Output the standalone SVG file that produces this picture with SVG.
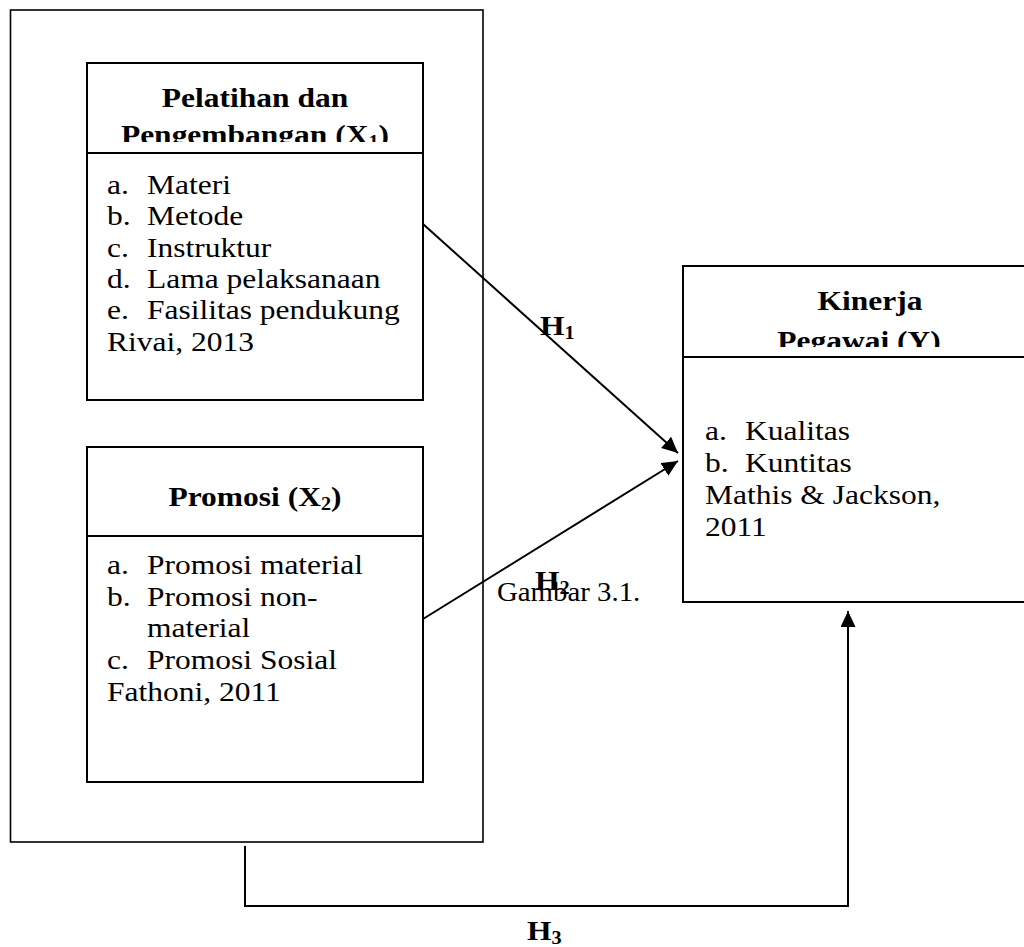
<svg xmlns="http://www.w3.org/2000/svg" width="1024" height="947" viewBox="0 0 1024 947">
<style>
.t{font-family:"Liberation Serif","Times New Roman",serif;font-size:28px;fill:#000}
.b{font-weight:bold}
.c{text-anchor:middle}
.box{fill:#fff;stroke:#000;stroke-width:2}
.outer{fill:none;stroke:#000;stroke-width:1.6}
.ln{fill:none;stroke:#000;stroke-width:2}
.sub{font-size:18px}
</style>
<defs>
<marker id="ah" markerUnits="userSpaceOnUse" markerWidth="17" markerHeight="16" refX="16" refY="7.5" orient="auto">
<path d="M0,0 L16,7.5 L0,15 z" fill="#000"/>
</marker>
<clipPath id="c1"><rect x="88" y="64" width="334" height="78"/></clipPath>
<clipPath id="c3"><rect x="684" y="267" width="340" height="80"/></clipPath>
</defs>
<rect width="1024" height="947" fill="#fff"/>
<g id="outer">
<rect class="outer" x="10.5" y="10" width="472.5" height="832"/>
</g>
<g id="x1">
<rect class="box" x="87" y="63" width="336" height="337"/>
<line class="ln" x1="87" y1="153" x2="423" y2="153"/>
<g clip-path="url(#c1)">
<text class="t b c" transform="translate(255 107) scale(1.125 1)">Pelatihan dan</text>
<text class="t b c" transform="translate(255 144) scale(1.125 1)">Pengembangan (X<tspan class="sub" dy="4">1</tspan><tspan dy="-4">)</tspan></text>
</g>
<text class="t" transform="translate(107 194) scale(1.125 1)">a.</text><text class="t" transform="translate(147 194) scale(1.125 1)">Materi</text>
<text class="t" transform="translate(107 225) scale(1.125 1)">b.</text><text class="t" transform="translate(147 225) scale(1.125 1)">Metode</text>
<text class="t" transform="translate(107 257) scale(1.125 1)">c.</text><text class="t" transform="translate(147 257) scale(1.125 1)">Instruktur</text>
<text class="t" transform="translate(107 288) scale(1.125 1)">d.</text><text class="t" transform="translate(147 288) scale(1.125 1)">Lama pelaksanaan</text>
<text class="t" transform="translate(107 319) scale(1.125 1)">e.</text><text class="t" transform="translate(147 319) scale(1.125 1)">Fasilitas pendukung</text>
<text class="t" transform="translate(107 351) scale(1.125 1)">Rivai, 2013</text>
</g>
<g id="x2">
<rect class="box" x="87" y="447" width="336" height="335"/>
<line class="ln" x1="87" y1="536" x2="423" y2="536"/>
<text class="t b c" transform="translate(255 506) scale(1.125 1)">Promosi (X<tspan class="sub" dy="4">2</tspan><tspan dy="-4">)</tspan></text>
<text class="t" transform="translate(107 574) scale(1.125 1)">a.</text><text class="t" transform="translate(147 574) scale(1.125 1)">Promosi material</text>
<text class="t" transform="translate(107 606) scale(1.125 1)">b.</text><text class="t" transform="translate(147 606) scale(1.125 1)">Promosi non-</text>
<text class="t" transform="translate(147 637) scale(1.125 1)">material</text>
<text class="t" transform="translate(107 669) scale(1.125 1)">c.</text><text class="t" transform="translate(147 669) scale(1.125 1)">Promosi Sosial</text>
<text class="t" transform="translate(107 701) scale(1.125 1)">Fathoni, 2011</text>
</g>
<g id="y">
<rect class="box" x="683" y="266" width="360" height="336"/>
<line class="ln" x1="683" y1="357" x2="1024" y2="357"/>
<g clip-path="url(#c3)">
<text class="t b c" transform="translate(870 310) scale(1.125 1)">Kinerja</text>
<text class="t b c" transform="translate(859 350) scale(1.125 1)">Pegawai (Y)</text>
</g>
<text class="t" transform="translate(705 440) scale(1.125 1)">a.</text><text class="t" transform="translate(745 440) scale(1.125 1)">Kualitas</text>
<text class="t" transform="translate(705 472) scale(1.125 1)">b.</text><text class="t" transform="translate(745 472) scale(1.125 1)">Kuntitas</text>
<text class="t" transform="translate(705 504) scale(1.125 1)">Mathis &amp; Jackson,</text>
<text class="t" transform="translate(705 536) scale(1.125 1)">2011</text>
</g>
<g id="connectors">
<line class="ln" x1="423" y1="224" x2="678" y2="453" marker-end="url(#ah)"/>
<line class="ln" x1="423" y1="619" x2="678" y2="461" marker-end="url(#ah)"/>
<polyline class="ln" points="245,846 245,906 848,906 848,611" marker-end="url(#ah)"/>
</g>
<g id="labels">
<text class="t b" transform="translate(540 335) scale(1.125 1)">H<tspan class="sub" dy="4">1</tspan></text>
<text class="t b" transform="translate(535 590) scale(1.125 1)">H<tspan class="sub" dy="4">2</tspan></text>
<text class="t" transform="translate(497 601) scale(1.03 1)">Gambar 3.1.</text>
<text class="t b" transform="translate(527 940) scale(1.125 1)">H<tspan class="sub" dy="4">3</tspan></text>
</g>
</svg>
